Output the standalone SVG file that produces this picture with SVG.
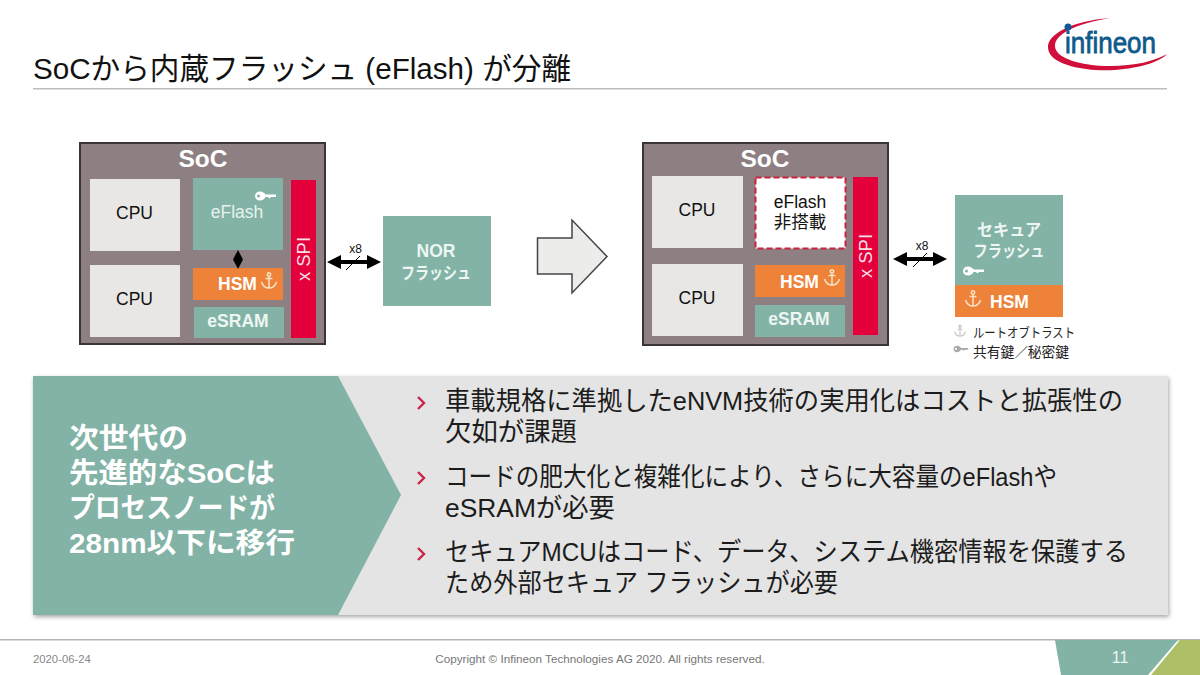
<svg xmlns="http://www.w3.org/2000/svg" width="1200" height="675" viewBox="0 0 1200 675">
<defs>
<style>
text{font-family:"Liberation Sans","Noto Sans CJK JP",sans-serif}
.soc{fill:#8e7f83;stroke:#3a3436;stroke-width:2}
.cpu{fill:#e8e7e6}
.teal{fill:#82b3a6}
.org{fill:#ed8238}
.red{fill:#e4003a}
.b{font-weight:700}
.m{text-anchor:middle}
.k{fill:#111}
.body{font-size:26px;fill:#1c1c1c}
.head{font-size:28.500px;font-weight:700;fill:#fff}
.ch{fill:none;stroke:#c9234a;stroke-width:2.400}
.ar{stroke:#000;stroke-width:4;fill:none}
.sl{stroke:#000;stroke-width:1;fill:none}
</style>
<g id="key"><path d="M5 -4.500C8 -4.500 10 -2.500 10.500 -1.500H21L21 1H16L14.500 2.500L13 1H10.500C10 2.500 8 4.500 5 4.500C2 4.500 0 2.500 0 0C0 -2.500 2 -4.500 5 -4.500ZM3.500 -1.500A1.500 1.500 0 1 0 3.500 1.500A1.500 1.500 0 1 0 3.500 -1.500Z" fill="currentColor" fill-rule="evenodd"/></g>
<g id="anchor" fill="none" stroke="currentColor" stroke-width="1.500"><circle cx="0" cy="-6.500" r="1.700"/><path d="M0 -4.500V7M-3.500 -2.500H3.500M-7.500 1C-6 6 -3 7 0 7C3 7 6 6 7.500 1"/></g>
</defs>
<rect width="1200" height="675" fill="#fff"/>
<g id="header">
<text x="33" y="79" font-size="30" fill="#111" textLength="538" lengthAdjust="spacingAndGlyphs">SoCから内蔵フラッシュ (eFlash) が分離</text>
<rect x="33" y="88" width="1134" height="1.500" fill="#bdbdbd"/>
</g>
<g id="logo">
<path d="M1110 18C1072 21 1047 34 1048 48C1049 66 1090 72 1115 70C1140 68 1160 62 1167 54C1155 61 1135 66 1110 66C1080 66 1055 58 1055 46C1055 34 1075 24 1110 18Z" fill="#d0103a"/>
<circle cx="1068" cy="27" r="3.500" fill="#0f5a96"/>
<text x="1065" y="53" font-size="29" font-weight="400" stroke="#0f5a8c" stroke-width="0.800" fill="#0f5a8c" textLength="91" lengthAdjust="spacingAndGlyphs">infineon</text>
</g>
<g id="soc-left">
<rect class="soc" x="80" y="143" width="245" height="201"/>
<text class="b m" x="203" y="167" font-size="24.500" fill="#fff">SoC</text>
<rect class="cpu" x="90" y="179" width="90" height="72"/>
<text class="k m" x="134.500" y="219" font-size="17.500">CPU</text>
<rect class="cpu" x="90" y="265" width="90" height="72"/>
<text class="k m" x="134.500" y="305" font-size="17.500">CPU</text>
<rect class="teal" x="193" y="178" width="90" height="72"/>
<text class="m" x="237" y="218" font-size="17.500" fill="#e8f2ef">eFlash</text>
<use href="#key" x="255" y="196" color="#fff"/>
<rect class="org" x="193" y="268" width="90" height="32"/>
<text class="b m" x="237.500" y="290" font-size="17.500" fill="#fff">HSM</text>
<use href="#anchor" x="269" y="281" color="#f7e3c8"/>
<rect class="teal" x="194" y="307" width="90" height="31"/>
<text class="b m" x="238" y="327" font-size="17.500" fill="#eef6f3">eSRAM</text>
<rect class="red" x="291" y="180" width="25" height="158"/>
<text class="m" transform="translate(310,259) rotate(-90)" font-size="18.500" fill="#f7dfe4">x SPI</text>
</g>
<g id="nor-flash">
<rect class="teal" x="383" y="216" width="108" height="90"/>
<text class="b m" x="436" y="257" font-size="17.500" fill="#eef6f3">NOR</text>
<text class="b m" x="436" y="279" font-size="17" fill="#eef6f3" textLength="70" lengthAdjust="spacingAndGlyphs">フラッシュ</text>
</g>
<g id="soc-right">
<rect class="soc" x="643" y="143" width="245" height="202"/>
<text class="b m" x="765" y="167" font-size="24.500" fill="#fff">SoC</text>
<rect class="cpu" x="652" y="176" width="91" height="72"/>
<text class="k m" x="697" y="216" font-size="17.500">CPU</text>
<rect class="cpu" x="652" y="264" width="91" height="72"/>
<text class="k m" x="697" y="304" font-size="17.500">CPU</text>
<rect x="755.500" y="177.500" width="90" height="71" fill="#fff" stroke="#c9233f" stroke-width="2" stroke-dasharray="6 3"/>
<text class="k m" x="800" y="208" font-size="17.500">eFlash</text>
<text class="k m" x="800" y="228" font-size="17.500">非搭載</text>
<rect class="org" x="755" y="265" width="90" height="32"/>
<text class="b m" x="799.500" y="288" font-size="17.500" fill="#fff">HSM</text>
<use href="#anchor" x="832" y="278" color="#f7e3c8"/>
<rect class="teal" x="755" y="305" width="90" height="32"/>
<text class="b m" x="799" y="325" font-size="17.500" fill="#eef6f3">eSRAM</text>
<rect class="red" x="853" y="177" width="25" height="158"/>
<text class="m" transform="translate(872,256) rotate(-90)" font-size="18.500" fill="#f7dfe4">x SPI</text>
</g>
<g id="secure-flash">
<rect class="teal" x="955" y="195" width="108" height="90"/>
<text class="b m" x="1009" y="236" font-size="16.500" fill="#eef6f3" textLength="64" lengthAdjust="spacingAndGlyphs">セキュア</text>
<text class="b m" x="1009" y="257" font-size="17" fill="#eef6f3" textLength="71" lengthAdjust="spacingAndGlyphs">フラッシュ</text>
<use href="#key" x="963" y="271" color="#fff"/>
<rect class="org" x="955" y="285" width="108" height="32"/>
<text class="b" x="990" y="308" font-size="17.500" fill="#fff">HSM</text>
<use href="#anchor" x="973" y="299" color="#f7e3c8"/>
</g>
<g id="legend">
<use href="#anchor" transform="translate(960,331) scale(.72)" color="#c4c4c4"/>
<text x="973" y="337" font-size="13" fill="#222" textLength="102" lengthAdjust="spacingAndGlyphs">ルートオブトラスト</text>
<use href="#key" transform="translate(953.500,349) scale(.7)" color="#a8a8a8"/>
<text x="973" y="357" font-size="13.500" fill="#222" textLength="96" lengthAdjust="spacingAndGlyphs">共有鍵／秘密鍵</text>
</g>
<g id="connectors">
<path d="M238 250L243 259.500L238 269L233 259.500Z" fill="#000"/>
<g id="bus-left">
<path class="ar" d="M335 262H370"/><path d="M327 262L341 255V269ZM381 262L367 255V269Z" fill="#000"/>
<path class="sl" d="M346 270L360 256"/>
<text x="355.500" y="253" class="m" font-size="12" fill="#111">x8</text>
</g>
<g id="bus-right">
<path class="ar" d="M900 259H935"/><path d="M893 259L907 252V266ZM947 259L933 252V266Z" fill="#000"/>
<path class="sl" d="M913 267L927 253"/>
<text x="922" y="250" class="m" font-size="12" fill="#111">x8</text>
</g>
</g>
<g id="big-arrow">
<path d="M537.500 238H572V220L607 256.500L572 293V274H537.500Z" fill="#ececeb" stroke="#444" stroke-width="1.500"/>
</g>
<g id="summary">
<rect x="33" y="376" width="1135" height="239" fill="#e4e4e4" style="filter:drop-shadow(1px 2px 2px rgba(0,0,0,.35))"/>
<path d="M33 376H338L401 495L338 615H33Z" fill="#82b3a6"/>
<text class="head" x="69" y="448" textLength="119" lengthAdjust="spacingAndGlyphs">次世代の</text>
<text class="head" x="69" y="483" textLength="206" lengthAdjust="spacingAndGlyphs">先進的なSoCは</text>
<text class="head" x="69" y="518" textLength="206" lengthAdjust="spacingAndGlyphs">プロセスノードが</text>
<text class="head" x="69" y="553" textLength="226" lengthAdjust="spacingAndGlyphs">28nm以下に移行</text>
<path class="ch" d="M418 397L424 403L418 409"/>
<text class="body" x="445" y="410" textLength="678" lengthAdjust="spacingAndGlyphs">車載規格に準拠したeNVM技術の実用化はコストと拡張性の</text>
<text class="body" x="445" y="441" textLength="132" lengthAdjust="spacingAndGlyphs">欠如が課題</text>
<path class="ch" d="M418 472L424 478L418 484"/>
<text class="body" x="445" y="486" textLength="612" lengthAdjust="spacingAndGlyphs">コードの肥大化と複雑化により、さらに大容量のeFlashや</text>
<text class="body" x="445" y="517" textLength="170" lengthAdjust="spacingAndGlyphs">eSRAMが必要</text>
<path class="ch" d="M418 548L424 554L418 560"/>
<text class="body" x="445" y="561" textLength="683" lengthAdjust="spacingAndGlyphs">セキュアMCUはコード、データ、システム機密情報を保護する</text>
<text class="body" x="445" y="592" textLength="393" lengthAdjust="spacingAndGlyphs">ため外部セキュア フラッシュが必要</text>
</g>
<g id="footer">
<rect x="0" y="639" width="1200" height="1.500" fill="#b5b5b5"/>
<text x="33" y="663" font-size="11.300" fill="#888">2020-06-24</text>
<text class="m" x="600" y="663" font-size="11.700" fill="#777">Copyright © Infineon Technologies AG 2020. All rights reserved.</text>
<path d="M1055 640H1178L1148 675H1061Z" fill="#82b3a6"/>
<path d="M1180 640H1200V675H1151Z" fill="#adbf67"/>
<text class="m" x="1120" y="663" font-size="16" fill="#eef6f3">11</text>
</g>
</svg>
